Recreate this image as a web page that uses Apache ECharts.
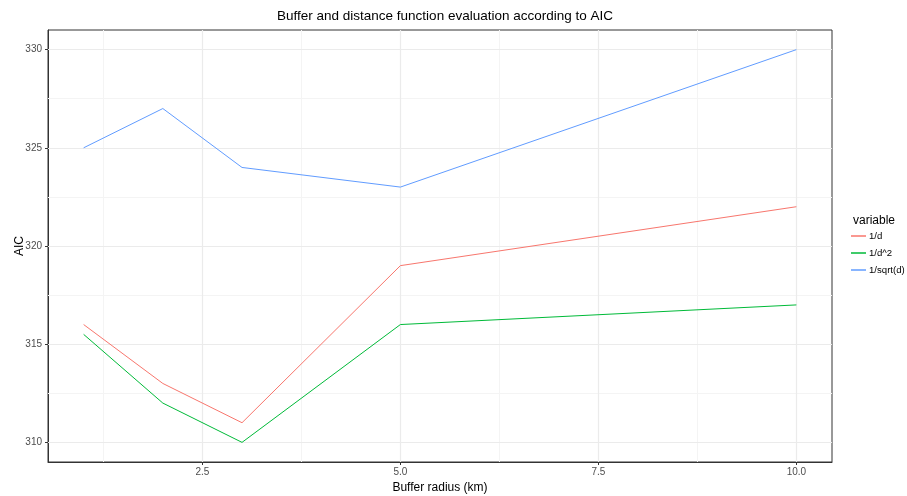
<!DOCTYPE html>
<html>
<head>
<meta charset="utf-8">
<script src="https://cdn.jsdelivr.net/npm/echarts@6/dist/echarts.min.js"></script>
<style>html,body{margin:0;padding:0;background:#fff}#c{width:907px;height:496px}</style>
</head>
<body>
<div id="c"></div>
<script>
var buffer = [1, 2, 3, 5, 10];
var invD = [316, 313, 311, 319, 322];
var invD2 = [315.5, 312, 310, 316, 317];
var invSqrtD = [325, 327, 324, 323, 330];
var seriesNames = ['1/d', '1/d^2', '1/sqrt(d)'];
var colors = ['#F8766D', '#00BA38', '#619CFF'];
var xMajor = [2.5, 5, 7.5, 10];
var xMinor = [1.25, 3.75, 6.25, 8.75];
var yMajor = [310, 315, 320, 325, 330];
var yMinor = [312.5, 317.5, 322.5, 327.5];

var font = 'Liberation Sans, Arial, sans-serif';
function pairs(ys) { return buffer.map(function (x, i) { return [x, ys[i]]; }); }

var gridLines = [];
xMinor.forEach(function (v) { gridLines.push({ xAxis: v, lineStyle: { color: '#f4f4f4', width: 1, type: 'solid' } }); });
yMinor.forEach(function (v) { gridLines.push({ yAxis: v, lineStyle: { color: '#f4f4f4', width: 1, type: 'solid' } }); });
xMajor.forEach(function (v) { gridLines.push({ xAxis: v, lineStyle: { color: '#ebebeb', width: 1.2, type: 'solid' } }); });
yMajor.forEach(function (v) { gridLines.push({ yAxis: v, lineStyle: { color: '#ebebeb', width: 1.2, type: 'solid' } }); });

var chart = echarts.init(document.getElementById('c'), null, { renderer: 'canvas' });
var allData = [invD, invD2, invSqrtD];
var option = {
  animation: false,
  backgroundColor: '#fff',
  textStyle: { fontFamily: font },
  title: [
    { text: 'Buffer and distance function evaluation according to AIC', left: 440, top: 4, textAlign: 'center',
      textStyle: { fontSize: 13.5, fontWeight: 'normal', color: '#000', fontFamily: font } },
    { text: 'variable', left: 848, top: 210, textStyle: { fontSize: 12, fontWeight: 'normal', color: '#000', fontFamily: font } }
  ],
  legend: {
    orient: 'vertical', left: 851, top: 231, itemGap: 7, itemWidth: 15, itemHeight: 1.5,
    icon: 'rect', data: seriesNames, padding: 0,
    textStyle: { fontSize: 9.6, color: '#000', fontFamily: font, padding: [0, 0, 0, -2] }
  },
  grid: { left: 48, right: 75, top: 30, bottom: 34, containLabel: false, outerBoundsMode: 'none',
    show: true, borderColor: '#333', borderWidth: 1, backgroundColor: 'transparent' },
  xAxis: {
    type: 'value', min: 0.55, max: 10.45,
    name: 'Buffer radius (km)', nameLocation: 'middle', nameGap: 17,
    nameTextStyle: { fontSize: 12, color: '#000', fontFamily: font },
    axisLine: { show: true, lineStyle: { color: '#333', width: 1 } },
    axisTick: { show: true, length: 3, customValues: xMajor, lineStyle: { color: '#333' } },
    axisLabel: { customValues: xMajor, fontSize: 10, color: '#4d4d4d', margin: 5,
      formatter: function (v) { return v.toFixed(1); } },
    splitLine: { show: false }
  },
  yAxis: {
    type: 'value', min: 309, max: 331,
    name: 'AIC', nameLocation: 'middle', nameGap: 22, nameRotate: 90, nameMoveOverlap: false,
    nameTextStyle: { fontSize: 12, color: '#000', fontFamily: font },
    axisLine: { show: true, lineStyle: { color: '#333', width: 1 } },
    axisTick: { show: true, length: 3, customValues: yMajor, lineStyle: { color: '#333' } },
    axisLabel: { customValues: yMajor, fontSize: 10, color: '#4d4d4d', margin: 6 },
    splitLine: { show: false }
  },
  series: [{
    type: 'line', name: '_grid', data: [], silent: true, z: 1,
    markLine: { silent: true, symbol: ['none', 'none'], label: { show: false }, animation: false, data: gridLines }
  }].concat(seriesNames.map(function (n, i) {
    return {
      type: 'line', name: n, data: pairs(allData[i]), showSymbol: false, symbol: 'none', z: 5,
      lineStyle: { color: colors[i], width: 1 }, itemStyle: { color: colors[i] }
    };
  }))
};
chart.setOption(option);
</script>
</body>
</html>
